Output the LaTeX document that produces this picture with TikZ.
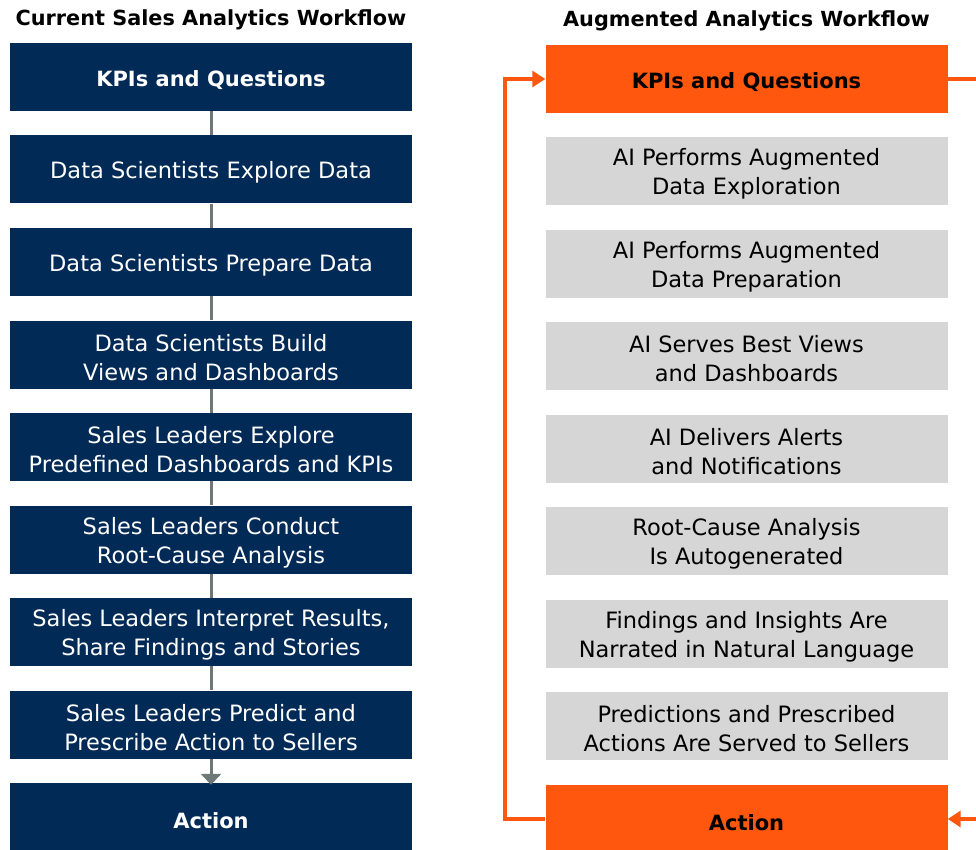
\documentclass[tikz,border=0pt]{standalone}
\usepackage{fontspec}
\setmainfont{DejaVu Sans}
\usetikzlibrary{arrows.meta}
\definecolor{navy}{HTML}{022A57}
\definecolor{orng}{HTML}{FF570D}
\definecolor{lgray}{HTML}{D6D6D6}
\definecolor{cgray}{HTML}{6E7878}
\newcommand{\lowstrut}{\rule{0pt}{23pt}}
\begin{document}
\begin{tikzpicture}[x=1pt,y=-1pt,
  box/.style={minimum width=402pt,minimum height=68pt,inner sep=0pt,align=center,font=\fontsize{22.5}{29}\selectfont},
  nbox/.style={box,fill=navy,text=white},
  gbox/.style={box,fill=lgray,text=black},
  bfb/.style={font=\fontsize{21}{29}\selectfont\bfseries},
  obox/.style={box,fill=orng,text=black,bfb},
  ttl/.style={font=\fontsize{20.8}{25}\selectfont\bfseries,inner sep=0pt},
  conn/.style={draw=cgray,line width=3pt},
  loop/.style={draw=orng,line width=4pt},
  tip/.style={-{Triangle[length=13pt,width=16pt]}}
]
\useasboundingbox (0,0) rectangle (976,850);
\node[ttl] (t1) at (211,20) {Current Sales Analytics Workflow};
\node[ttl] (t2) at (746.5,21) {Augmented Analytics Workflow};
% left column
\node[nbox,bfb] (l1) at (211,77) {\lowstrut KPIs and Questions};
\node[nbox] (l2) at (211,169.5) {\lowstrut Data Scientists Explore Data};
\node[nbox] (l3) at (211,262) {\lowstrut Data Scientists Prepare Data};
\node[nbox] (l4) at (211,354.5) {\lowstrut Data Scientists Build\\Views and Dashboards};
\node[nbox] (l5) at (211,447) {\lowstrut Sales Leaders Explore\\Predefined Dashboards and KPIs};
\node[nbox] (l6) at (211,539.5) {\lowstrut Sales Leaders Conduct\\Root-Cause Analysis};
\node[nbox] (l7) at (211,632) {\lowstrut Sales Leaders Interpret Results,\\Share Findings and Stories};
\node[nbox] (l8) at (211,724.5) {\lowstrut Sales Leaders Predict and\\Prescribe Action to Sellers};
\node[nbox,bfb] (l9) at (211,817) {\lowstrut Action};
\foreach \a/\b in {l1/l2,l2/l3,l3/l4,l4/l5,l5/l6,l6/l7,l7/l8}
  \draw[conn] (\a.south) -- (\b.north);
\draw[conn,-{Triangle[length=11pt,width=20pt]}] (l8.south) -- ([yshift=-2pt]l9.north);
% right column
\node[obox] (r1) at (746.5,79) {\lowstrut KPIs and Questions};
\node[gbox] (r2) at (746.5,171) {\lowstrut AI Performs Augmented\\Data Exploration};
\node[gbox] (r3) at (746.5,264) {\lowstrut AI Performs Augmented\\Data Preparation};
\node[gbox] (r4) at (746.5,356) {\lowstrut AI Serves Best Views\\and Dashboards};
\node[gbox] (r5) at (746.5,449) {\lowstrut AI Delivers Alerts\\and Notifications};
\node[gbox] (r6) at (746.5,541) {\lowstrut Root-Cause Analysis\\Is Autogenerated};
\node[gbox] (r7) at (746.5,634) {\lowstrut Findings and Insights Are\\Narrated in Natural Language};
\node[gbox] (r8) at (746.5,726) {\lowstrut Predictions and Prescribed\\Actions Are Served to Sellers};
\node[obox] (r9) at (746.5,819) {\lowstrut Action};
\draw[loop,tip] (r9.west) -- ++(-40,0) |- (r1.west);
\coordinate (e1) at (976,79);
\coordinate (e2) at (976,819);
\draw[loop] (r1.east) -- (e1);
\draw[loop,tip] (e2) -- (r9.east);
\end{tikzpicture}
\end{document}
